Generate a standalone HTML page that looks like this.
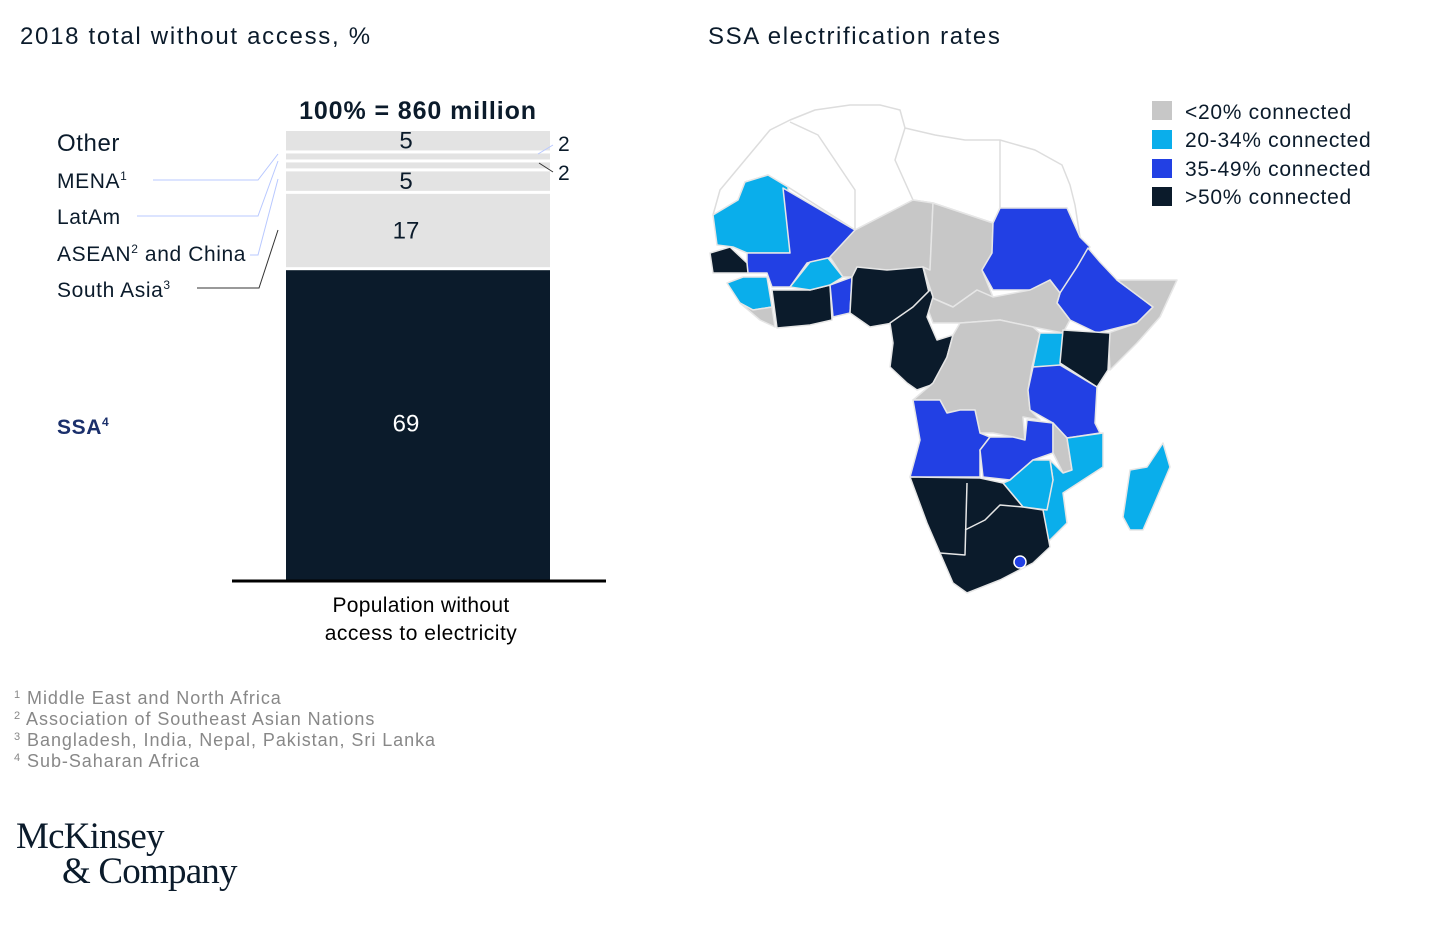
<!DOCTYPE html>
<html><head><meta charset="utf-8">
<style>
body{margin:0;width:1431px;height:937px;background:#fff;font-family:"Liberation Sans",sans-serif;color:#0b1b2b;overflow:hidden}
</style></head>
<body>
<svg width="1431" height="937" viewBox="0 0 1431 937" xmlns="http://www.w3.org/2000/svg" font-family="Liberation Sans, sans-serif">
<text x="20" y="44" font-size="24" letter-spacing="1.7" fill="#0b1b2b">2018 total without access, %</text>
<text x="708" y="44" font-size="24" letter-spacing="1.6" fill="#0b1b2b">SSA electrification rates</text>
<text x="418" y="119" font-size="25" font-weight="bold" letter-spacing="0.9" text-anchor="middle" fill="#0b1b2b">100% = 860 million</text>
<g id="bars"></g>
<line x1="232" y1="581" x2="606" y2="581" stroke="#000" stroke-width="3"/>
<text x="421" y="612" font-size="21" letter-spacing="0.3" text-anchor="middle" fill="#000">Population without</text>
<text x="421" y="640" font-size="21" letter-spacing="0.5" text-anchor="middle" fill="#000">access to electricity</text>
<g font-size="21" fill="#0b1b2b" letter-spacing="0.6">
<text x="57" y="151" font-size="24">Other</text>
<text x="57" y="188">MENA<tspan font-size="12" dy="-8">1</tspan></text>
<text x="57" y="224">LatAm</text>
<text x="57" y="261">ASEAN<tspan font-size="12" dy="-8">2</tspan><tspan dy="8"> and China</tspan></text>
<text x="57" y="297">South Asia<tspan font-size="12" dy="-8">3</tspan></text>
<text x="57" y="434" font-weight="bold" fill="#1a2f6b">SSA<tspan font-size="12" dy="-8">4</tspan></text>
</g>
<g fill="none" stroke-width="1">
<polyline points="153,180 258,180 278,154" stroke="#b8c8ff"/>
<polyline points="137,216 258,216 278,161" stroke="#b8c8ff"/>
<polyline points="250,255 258,255 278,179" stroke="#b8c8ff"/>
<polyline points="197,288 259,288 278,230" stroke="#333"/>
<line x1="538" y1="154" x2="553" y2="145" stroke="#b8c8ff"/>
<line x1="539" y1="163" x2="553" y2="172" stroke="#333"/>
</g>
<text x="558" y="151" font-size="21" fill="#0b1b2b">2</text>
<text x="558" y="180" font-size="21" fill="#0b1b2b">2</text>

<g font-size="18" fill="#888" letter-spacing="0.95">
<text x="14" y="704"><tspan font-size="11" dy="-6">1</tspan><tspan dy="6"> Middle East and North Africa</tspan></text>
<text x="14" y="725"><tspan font-size="11" dy="-6">2</tspan><tspan dy="6"> Association of Southeast Asian Nations</tspan></text>
<text x="14" y="746"><tspan font-size="11" dy="-6">3</tspan><tspan dy="6"> Bangladesh, India, Nepal, Pakistan, Sri Lanka</tspan></text>
<text x="14" y="767"><tspan font-size="11" dy="-6">4</tspan><tspan dy="6"> Sub-Saharan Africa</tspan></text>
</g>
<g font-family="Liberation Serif, serif" fill="#0b1b2b" font-size="37" letter-spacing="-0.8">
<text x="16" y="848">McKinsey</text>
<text x="62" y="883">&amp; Company</text>
</g>

<g id="map" stroke="#e6e6e6" stroke-width="1.5" stroke-linejoin="round">
<polygon fill="#fff" stroke="#ddd" points="713,215 720,190 745,160 770,130 790,120 815,110 850,105 880,105 900,110 905,128 935,135 965,140 1000,140 1035,150 1062,165 1070,185 1075,205 1080,237 1067,208 1000,208 993,223 933,203 913,200 855,230 788,187 768,175 745,182 738,200"/>
<polyline fill="none" stroke="#ddd" points="790,122 818,135 855,190 855,230"/>
<polyline fill="none" stroke="#ddd" points="905,128 895,160 913,200"/>
<polyline fill="none" stroke="#ddd" points="1000,140 1000,208"/>
<polygon fill="#0aaeeb" points="713,215 738,200 745,182 768,175 788,187 790,253 747,253 733,247 717,245"/>
<polygon fill="#2240e4" points="783,188 855,230 853,253 833,257 807,263 790,287 772,287 767,273 747,273 747,253 790,253"/>
<polygon fill="#0b1b2b" points="710,253 730,247 747,263 748,273 713,273"/>
<polygon fill="#0aaeeb" points="727,283 743,277 767,277 772,307 753,310 740,303"/>
<polygon fill="#c7c7c7" points="740,303 753,310 772,307 775,327 760,320"/>
<polygon fill="#0b1b2b" points="772,290 810,290 830,285 832,320 810,325 777,328"/>
<polygon fill="#0aaeeb" points="790,287 810,262 828,258 843,277 830,285 810,290"/>
<polygon fill="#2240e4" points="830,285 852,277 850,313 833,317"/>
<polygon fill="#c7c7c7" points="830,257 855,230 913,200 933,203 930,270 887,270 852,277 843,277"/>
<polygon fill="#0b1b2b" points="852,277 857,267 887,270 923,267 930,290 913,307 893,323 870,327 850,313"/>
<polygon fill="#c7c7c7" points="933,203 993,223 992,253 982,270 993,297 977,290 953,307 930,297 923,267 930,270"/>
<polygon fill="#2240e4" points="993,223 1000,208 1067,208 1080,237 1090,247 1077,267 1060,293 1050,280 1030,290 993,290 982,270 992,253"/>
<polygon fill="#2240e4" points="1077,267 1088,248 1100,262 1117,280 1153,307 1137,323 1097,333 1070,320 1057,303 1060,293"/>
<polygon fill="#c7c7c7" points="1117,280 1177,280 1160,317 1137,343 1110,370 1108,333 1137,323 1153,307"/>
<polygon fill="#c7c7c7" points="930,297 953,307 977,290 993,297 1030,290 1050,280 1060,293 1057,303 1070,320 1063,333 1033,327 1000,320 960,323 933,323 927,307"/>
<polygon fill="#0b1b2b" points="923,267 933,297 927,317 937,340 953,335 947,357 937,383 917,390 907,383 890,367 893,343 890,323 913,307 930,290"/>
<polygon fill="#c7c7c7" points="953,335 960,323 1000,320 1033,327 1040,333 1032,367 1028,390 1030,410 1040,420 1023,417 1025,440 1013,437 993,433 980,433 975,410 960,410 947,413 940,400 913,400 933,383 947,357"/>
<polygon fill="#0aaeeb" points="1040,333 1063,333 1060,367 1033,367"/>
<polygon fill="#0b1b2b" points="1063,330 1110,333 1108,370 1097,387 1060,363"/>
<polygon fill="#2240e4" points="1033,367 1060,365 1097,387 1095,423 1100,433 1067,438 1053,423 1030,410 1028,390"/>
<polygon fill="#2240e4" points="913,400 940,400 947,413 960,410 975,410 980,433 990,437 980,450 980,477 910,477 920,440"/>
<polygon fill="#2240e4" points="980,450 990,437 1013,437 1025,440 1027,420 1053,423 1053,453 1033,460 1010,480 983,477"/>
<polygon fill="#c7c7c7" points="1053,423 1067,438 1072,470 1063,473 1053,453"/>
<polygon fill="#0aaeeb" points="1067,438 1103,433 1103,467 1063,493 1067,523 1047,543 1043,510 1053,480 1050,460 1063,473 1072,470"/>
<polygon fill="#0aaeeb" points="1010,480 1033,460 1050,460 1053,480 1047,510 1023,507 1003,483"/>
<polygon fill="#0b1b2b" points="910,477 980,478 1003,483 1023,507 1043,510 1050,547 1033,563 1000,580 967,593 953,583 940,553 927,523"/>
<polyline fill="none" points="967,483 965,555 940,553"/>
<polyline fill="none" points="965,530 985,520 1000,505 1023,507"/>
<circle cx="1020" cy="562" r="6" fill="#2240e4" stroke="#fff"/>
<polygon fill="#0aaeeb" points="1163,443 1170,467 1153,507 1143,530 1130,530 1123,517 1130,470 1147,467"/>
</g>

<g font-size="21" fill="#0b1b2b" letter-spacing="0.7">
<rect x="1152" y="101" width="20" height="19" fill="#c7c7c7"/>
<text x="1185" y="119">&lt;20% connected</text>
<rect x="1152" y="130" width="20" height="19" fill="#0aaeeb"/>
<text x="1185" y="147">20-34% connected</text>
<rect x="1152" y="159" width="20" height="19" fill="#2240e4"/>
<text x="1185" y="176">35-49% connected</text>
<rect x="1152" y="187" width="20" height="19" fill="#0b1b2b"/>
<text x="1185" y="204">&gt;50% connected</text>
</g>
</svg>
<script>
const categories = ["Other","MENA","LatAm","ASEAN and China","South Asia","SSA"];
const values = [5,2,2,5,17,69];
const showLabel = [true,false,false,true,true,true];
const NS="http://www.w3.org/2000/svg";
const g=document.getElementById('bars');
const x0=286, w=264, yBottom=580, yTop=131, gap=3;
const total=values.reduce((a,b)=>a+b,0);
const yScale=v=>(yBottom-yTop)*v/total;
let cum=0;
for(let i=values.length-1;i>=0;i--){
  const yb=yBottom-yScale(cum);
  const h=yScale(values[i]);
  const yt=yb-h;
  const r=document.createElementNS(NS,'rect');
  
  
  r.setAttribute('x',x0);r.setAttribute('y',yt);
  r.setAttribute('width',w);r.setAttribute('height',Math.max(1,h-(i===values.length-1?0:gap)));
  r.setAttribute('fill',i===values.length-1?'#0b1b2b':'#e3e3e3');
  g.appendChild(r);
  if(showLabel[i]){
    const t=document.createElementNS(NS,'text');
    
    
    t.setAttribute('x',x0+w/2-12);t.setAttribute('y',yt+(h-gap)/2+8);
    t.setAttribute('text-anchor','middle');t.setAttribute('font-size','24');
    t.setAttribute('fill',i===values.length-1?'#fff':'#0b1b2b');
    t.textContent=values[i];
    g.appendChild(t);
  }
  cum+=values[i];
}
</script>
</body></html>
